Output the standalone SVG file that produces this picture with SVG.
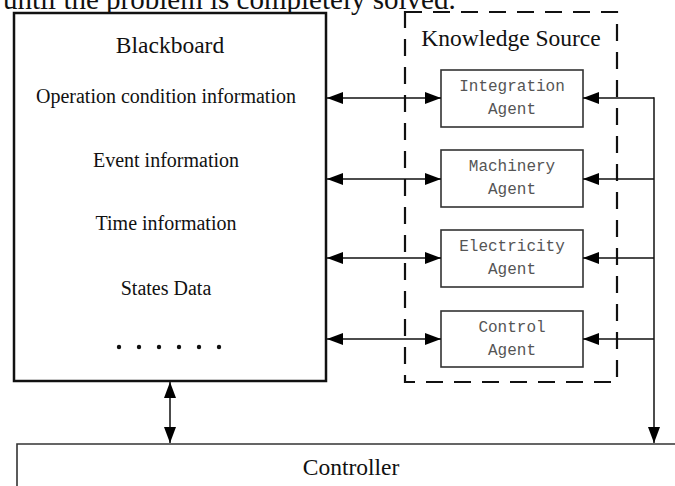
<svg xmlns="http://www.w3.org/2000/svg" width="675" height="486" viewBox="0 0 675 486">
<defs>
<style>
.serif{font-family:"Liberation Serif","Times New Roman",serif;fill:#111}
.h{font-size:23.5px}
.it{font-size:20px}
.mono{font-family:"Liberation Mono","DejaVu Sans Mono",monospace;font-size:16px;fill:#555}
.box{fill:#fff;stroke:#333;stroke-width:1.6}
.ln{stroke:#111;stroke-width:1.5;fill:none}
</style>
<marker id="ah" viewBox="0 0 16 12" refX="16" refY="6" markerWidth="16" markerHeight="12" markerUnits="userSpaceOnUse" orient="auto-start-reverse">
<path d="M0,0 L16,6 L0,12 Z" fill="#000"/>
</marker>
</defs>
<rect width="675" height="486" fill="#fff"/>
<text class="serif" x="3" y="9" font-size="29">until the problem is completely solved.</text>

<g id="blackboard">
<rect x="14" y="13" width="312" height="368" fill="#fff" stroke="#111" stroke-width="2.5"/>
<text class="serif h" x="170" y="53" text-anchor="middle">Blackboard</text>
<text class="serif it" x="166" y="103" text-anchor="middle">Operation condition information</text>
<text class="serif it" x="166" y="167" text-anchor="middle">Event information</text>
<text class="serif it" x="166" y="230" text-anchor="middle">Time information</text>
<text class="serif it" x="166" y="295" text-anchor="middle">States Data</text>
<g fill="#111">
<circle cx="119" cy="347" r="2.2"/><circle cx="139" cy="347" r="2.2"/><circle cx="159" cy="347" r="2.2"/>
<circle cx="179" cy="347" r="2.2"/><circle cx="199" cy="347" r="2.2"/><circle cx="219" cy="347" r="2.2"/>
</g>
</g>

<g id="knowledge-source">
<rect x="405" y="12" width="212" height="370" fill="none" stroke="#111" stroke-width="2.2" stroke-dasharray="17 11"/>
<text class="serif h" x="511" y="46" text-anchor="middle">Knowledge Source</text>
</g>

<g id="integration-agent">
<rect class="box" x="441" y="70" width="142" height="57"/>
<text class="mono" x="512" y="91" text-anchor="middle">Integration</text>
<text class="mono" x="512" y="114" text-anchor="middle">Agent</text>
</g>
<g id="machinery-agent">
<rect class="box" x="441" y="150" width="142" height="57"/>
<text class="mono" x="512" y="171" text-anchor="middle">Machinery</text>
<text class="mono" x="512" y="194" text-anchor="middle">Agent</text>
</g>
<g id="electricity-agent">
<rect class="box" x="441" y="230" width="142" height="57"/>
<text class="mono" x="512" y="251" text-anchor="middle">Electricity</text>
<text class="mono" x="512" y="274" text-anchor="middle">Agent</text>
</g>
<g id="control-agent">
<rect class="box" x="441" y="311" width="142" height="56"/>
<text class="mono" x="512" y="332" text-anchor="middle">Control</text>
<text class="mono" x="512" y="355" text-anchor="middle">Agent</text>
</g>

<g id="controller">
<path d="M17,486 L17,444 L675,444" fill="#fff" stroke="#333" stroke-width="1.6"/>
<text class="serif h" x="351" y="475" text-anchor="middle">Controller</text>
</g>

<g id="connectors">
<line class="ln" x1="327" y1="98" x2="441" y2="98" marker-start="url(#ah)" marker-end="url(#ah)"/>
<line class="ln" x1="327" y1="179" x2="441" y2="179" marker-start="url(#ah)" marker-end="url(#ah)"/>
<line class="ln" x1="327" y1="258" x2="441" y2="258" marker-start="url(#ah)" marker-end="url(#ah)"/>
<line class="ln" x1="327" y1="339" x2="441" y2="339" marker-start="url(#ah)" marker-end="url(#ah)"/>
<line class="ln" x1="654" y1="98" x2="583" y2="98" marker-end="url(#ah)"/>
<line class="ln" x1="654" y1="179" x2="583" y2="179" marker-end="url(#ah)"/>
<line class="ln" x1="654" y1="258" x2="583" y2="258" marker-end="url(#ah)"/>
<line class="ln" x1="654" y1="339" x2="583" y2="339" marker-end="url(#ah)"/>
<line class="ln" x1="654" y1="97.3" x2="654" y2="443" marker-end="url(#ah)"/>
<line class="ln" x1="170" y1="382" x2="170" y2="443" marker-start="url(#ah)" marker-end="url(#ah)"/>
</g>
</svg>
